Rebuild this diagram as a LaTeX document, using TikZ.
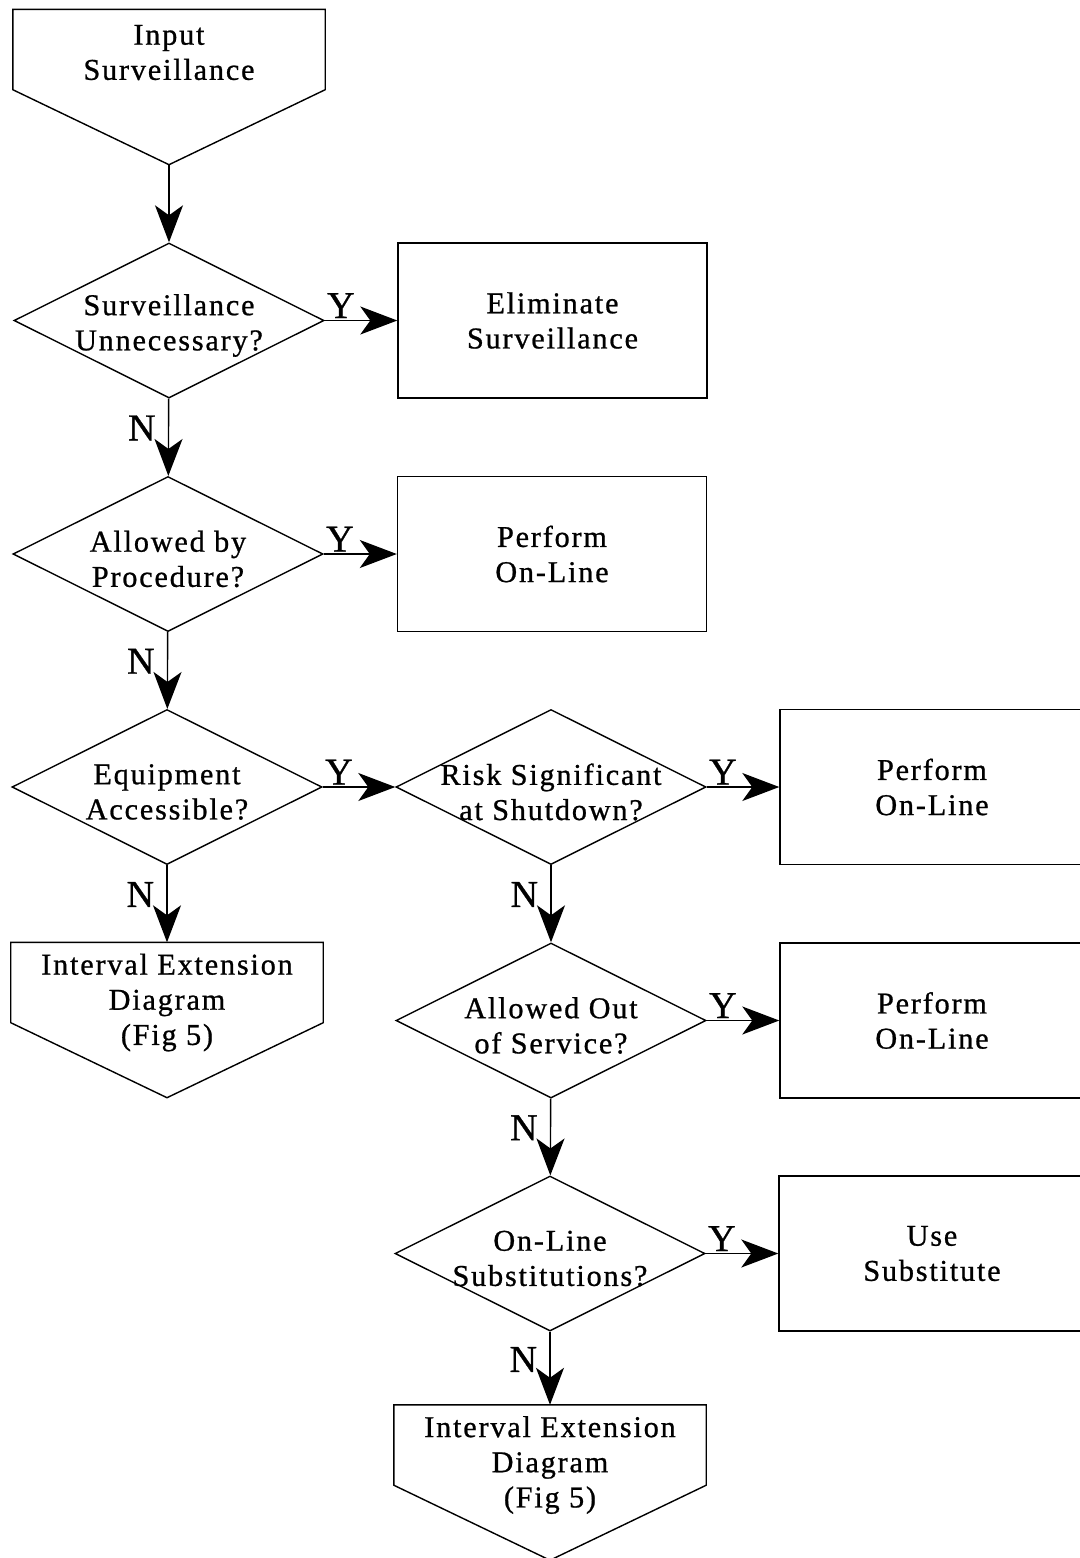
\documentclass[tikz,border=0pt]{standalone}
\usepackage{fontspec}
\setmainfont{Liberation Serif}[LetterSpace=6,FakeBold=0.8]
\usetikzlibrary{positioning,shapes.geometric,arrows.meta}

\tikzset{
	txt/.style={align=center,font=\fontsize{8.6}{10}\selectfont,inner sep=0pt},
	dtxt/.style={txt,yshift=-0.05cm},
	decision/.style={diamond,draw,minimum width=3.1cm,minimum height=1.55cm,inner sep=0pt},
	action/.style={rectangle,draw,minimum width=3.09cm,minimum height=1.55cm,inner sep=0pt,txt},
	offpage/.style={rectangle,minimum width=3.11cm,minimum height=0.79cm,inner sep=0pt},
	flow/.style={-{Stealth[length=0.37cm,width=0.28cm,inset=0.1cm]}},
	yn/.style={font=\fontsize{10.8}{12}\selectfont,inner sep=0.5pt},
}
% off-page connector: box with a pointed bottom
\newcommand{\offpage}[1]{
	\coordinate[below=0.75cm of #1.south] (#1tip);
	\draw (#1.south west) -- (#1.north west) -- (#1.north east) -- (#1.south east) -- (#1tip) -- cycle;
}

\begin{document}
\begin{tikzpicture}[line width=0.4pt]
			\useasboundingbox (0,0) rectangle (10.8,-15.58);
			% left column
			\node[offpage,label={[txt,yshift=-0.03cm]center:Input\\Surveillance}] (inp) at (1.69,-0.495) {};
			\offpage{inp}
			\node[decision,label={[dtxt]center:Surveillance\\Unnecessary?}] (d1) at (1.69,-3.205) {};
			\node[decision,label={[dtxt]center:Allowed by\\Procedure?}] (d2) at (1.68,-5.54) {};
			\node[decision,label={[dtxt]center:Equipment\\Accessible?}] (d3) at (1.67,-7.87) {};
			\node[offpage,label={[txt,yshift=-0.2cm]center:Interval Extension\\Diagram\\(Fig 5)}] (ext1) at (1.67,-9.825) {};
			\offpage{ext1}
			% middle column
			\node[action] (b1) at (5.525,-3.205) {Eliminate\\Surveillance};
			\node[action] (b2) at (5.52,-5.54) {Perform\\On-Line};
			\node[decision,label={[dtxt]center:Risk Significant\\at Shutdown?}] (d4) at (5.51,-7.87) {};
			\node[decision,label={[dtxt]center:Allowed Out\\of Service?}] (d5) at (5.51,-10.205) {};
			\node[decision,label={[dtxt]center:On-Line\\Substitutions?}] (d6) at (5.50,-12.535) {};
			\node[offpage,label={[txt,yshift=-0.2cm]center:Interval Extension\\Diagram\\(Fig 5)}] (ext2) at (5.50,-14.45) {};
			\offpage{ext2}
			% right column
			\node[action,minimum width=3.04cm] (b3) at (9.32,-7.87) {Perform\\On-Line};
			\node[action,minimum width=3.04cm] (b4) at (9.32,-10.205) {Perform\\On-Line};
			\node[action,minimum width=3.06cm] (b5) at (9.32,-12.535) {Use\\Substitute};
			% connectors
			\draw[flow] (inptip) -- (d1);
			\draw[flow] (d1) -- node[yn,pos=0,anchor=south west]{Y} (b1);
			\draw[flow] (d1) -- node[yn,pos=0.38,left=3pt]{N} (d2);
			\draw[flow] (d2) -- node[yn,pos=0,anchor=south west]{Y} (b2);
			\draw[flow] (d2) -- node[yn,pos=0.38,left=3pt]{N} (d3);
			\draw[flow] (d3) -- node[yn,pos=0,anchor=south west]{Y} (d4);
			\draw[flow] (d3) -- node[yn,pos=0.38,left=3pt]{N} (ext1);
			\draw[flow] (d4) -- node[yn,pos=0,anchor=south west]{Y} (b3);
			\draw[flow] (d4) -- node[yn,pos=0.38,left=3pt]{N} (d5);
			\draw[flow] (d5) -- node[yn,pos=0,anchor=south west]{Y} (b4);
			\draw[flow] (d5) -- node[yn,pos=0.38,left=3pt]{N} (d6);
			\draw[flow] (d6) -- node[yn,pos=0,anchor=south west]{Y} (b5);
			\draw[flow] (d6) -- node[yn,pos=0.38,left=3pt]{N} (ext2);
		\end{tikzpicture}
\end{document}
